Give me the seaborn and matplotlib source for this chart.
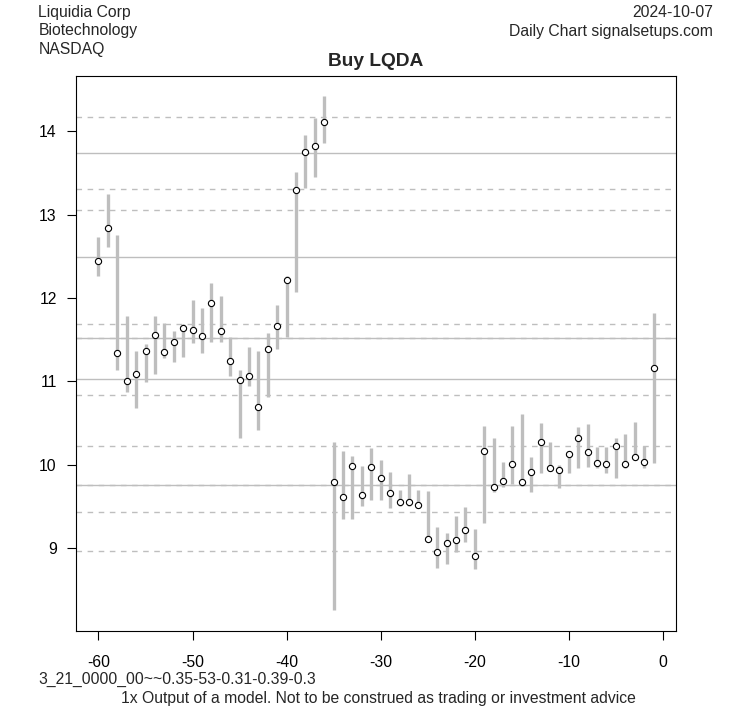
import numpy as np
import pandas as pd
import matplotlib
matplotlib.use("Agg")
import matplotlib.pyplot as plt
import seaborn as sns

# ---- data ----
days = list(range(-60, 0))
highs = [12.734, 13.249, 12.758, 11.788, 11.369, 11.453, 11.788, 11.697, 11.609, 11.685,
         11.972, 11.884, 12.176, 12.028, 11.537, 11.141, 11.410, 11.369, 11.577, 11.920,
         12.267, 13.513, 13.956, 14.159, 14.423, 10.272, 10.160, 10.100, 9.980, 10.200,
         10.052, 9.908, 9.692, 9.884, 9.692, 9.680, 9.249, 9.177, 9.381, 9.489,
         9.225, 10.459, 10.315, 10.028, 10.459, 10.614, 10.088, 10.495, 10.267, 9.992,
         10.152, 10.447, 10.483, 10.207, 10.207, 10.315, 10.363, 10.507, 10.219, 11.820]
lows = [12.260, 12.607, 11.138, 10.871, 10.679, 10.990, 11.086, 11.278, 11.230, 11.290,
        11.457, 11.338, 11.469, 11.469, 11.070, 10.320, 10.942, 10.419, 10.811, 11.389,
        11.529, 12.075, 13.317, 13.457, 13.856, 8.260, 9.350, 9.350, 9.501, 9.577,
        9.577, 9.481, 9.501, 9.501, 9.489, 9.093, 8.763, 8.811, 8.955, 9.070,
        8.751, 9.302, 9.673, 9.733, 9.769, 9.745, 9.673, 9.901, 9.928, 9.721,
        9.901, 9.960, 9.972, 9.960, 9.901, 9.841, 9.960, 10.070, 9.960, 10.024]
closes = [12.440, 12.835, 11.338, 11.003, 11.086, 11.362, 11.553, 11.350, 11.469, 11.641,
          11.617, 11.541, 11.936, 11.601, 11.242, 11.018, 11.062, 10.691, 11.386, 11.665,
          12.216, 13.293, 13.749, 13.829, 14.116, 9.793, 9.613, 9.984, 9.637, 9.972,
          9.841, 9.661, 9.553, 9.553, 9.517, 9.110, 8.955, 9.062, 9.098, 9.218,
          8.907, 10.164, 9.733, 9.805, 10.008, 9.793, 9.913, 10.272, 9.960, 9.936,
          10.128, 10.320, 10.152, 10.020, 10.008, 10.224, 10.008, 10.088, 10.032, 11.158]
solid_levels = [13.740, 12.488, 11.520, 11.024, 9.760]
dashed_levels = [14.168, 13.308, 13.052, 11.684, 11.520, 10.832, 10.220, 9.760, 9.428, 8.964]
x_ticks = [-60, -50, -40, -30, -20, -10, 0]
y_ticks = [9, 10, 11, 12, 13, 14]

header_left = ["Liquidia Corp", "Biotechnology", "NASDAQ"]
header_right = ["2024-10-07", "Daily Chart signalsetups.com"]
title = "Buy LQDA"
footer_code = "3_21_0000_00~~0.35-53-0.31-0.39-0.3"
footer_note = "1x Output of a model. Not to be construed as trading or investment advice"

df = pd.DataFrame({"day": days, "high": highs, "low": lows, "close": closes})

# ---- style ----
sns.set_theme(style="white")
plt.rcParams["font.family"] = ["Liberation Sans", "DejaVu Sans"]

W, H = 753, 708
fig = plt.figure(figsize=(W / 100, H / 100), dpi=100)
L, R, T, B = 76.3, 675.7, 76.0, 631.0
ax = fig.add_axes([L / W, 1 - B / H, (R - L) / W, (B - T) / H])

grey = "#BEBEBE"
for lv in solid_levels:
    ax.axhline(lv, color=grey, lw=1.0, zorder=1)
for lv in dashed_levels:
    ax.axhline(lv, color=grey, lw=1.0, ls=(0, (4, 4)), zorder=1)

ax.vlines(df["day"], df["low"], df["high"], color=grey, lw=2.4, zorder=2)
sns.scatterplot(data=df, x="day", y="close", ax=ax, marker="o", s=20,
                facecolor="white", edgecolor="black", linewidth=0.8, zorder=3,
                legend=False)

ax.set_xlim(-62.36, 1.36)
ax.set_ylim(8.004, 14.664)
ax.set_xticks(x_ticks)
ax.set_yticks(y_ticks)
ax.set_xticklabels([str(t) for t in x_ticks])
ax.set_yticklabels([str(t) for t in y_ticks])
ax.set_xlabel("")
ax.set_ylabel("")
for s in ax.spines.values():
    s.set_visible(True)
    s.set_color("black")
    s.set_linewidth(0.8)
ax.tick_params(axis="both", which="both", direction="out", length=6.5, width=0.8,
               color="black", labelsize=11.3, labelcolor="black",
               bottom=True, left=True, top=False, right=False)
ax.tick_params(axis="x", pad=10.5)
ax.tick_params(axis="y", pad=7.5)
ax.grid(False)

fs = 11.3
for i, t in enumerate(header_left):
    fig.text(38.4 / W, 1 - (16.7 + 18.7 * i) / H, t, ha="left", va="baseline", fontsize=fs)
for i, t in enumerate(header_right):
    fig.text(713 / W, 1 - (16.7 + 19.0 * i) / H, t, ha="right", va="baseline", fontsize=fs)
fig.text(376 / W, 1 - 66 / H, title, ha="center", va="baseline", fontsize=13.8,
         fontweight="bold")
fig.text(38.4 / W, 1 - 684 / H, footer_code, ha="left", va="baseline", fontsize=fs)
fig.text(378 / W, 1 - 703 / H, footer_note, ha="center", va="baseline", fontsize=fs)

fig.savefig("out.png", dpi=100, facecolor="white")
